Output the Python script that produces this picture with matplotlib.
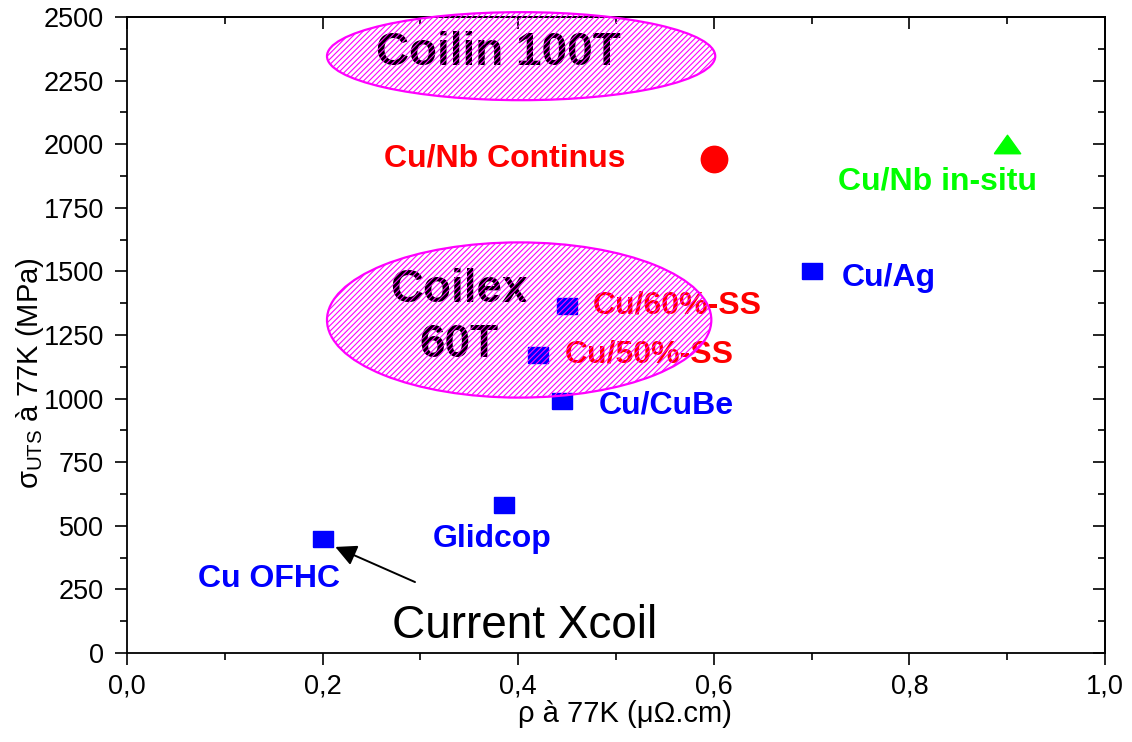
"""Strength vs resistivity at 77K for conductor candidates (Coilin / Coilex)."""

import matplotlib
matplotlib.use("Agg")
import matplotlib.pyplot as plt
from matplotlib.patches import Ellipse
from matplotlib.ticker import FuncFormatter, MultipleLocator

plt.rcParams["font.family"] = ["Liberation Sans", "DejaVu Sans"]
plt.rcParams["mathtext.default"] = "regular"
plt.rcParams["hatch.linewidth"] = 0.8

BLUE = "#0000FF"
RED = "#FF0000"
GREEN = "#00FF00"
MAGENTA = "#FF00FF"

# conductors: resistivity (µOhm.cm) and UTS (MPa) at 77K
blue_names = ["Cu OFHC", "Glidcop", "Cu/CuBe", "Cu/50%-SS", "Cu/60%-SS", "Cu/Ag"]
blue_rho = [0.20, 0.385, 0.445, 0.42, 0.45, 0.70]
blue_uts = [450, 580, 990, 1170, 1365, 1500]

contin_rho = [0.60]
contin_uts = [1940]

insitu_rho = [0.90]
insitu_uts = [2000]

# label anchors (left edge, baseline) and colours
label_text = ["Cu OFHC", "Glidcop", "Cu/CuBe", "Cu/50%-SS", "Cu/60%-SS",
              "Cu/Ag", "Cu/Nb Continus", "Cu/Nb in-situ"]
label_x = [0.073, 0.313, 0.482, 0.448, 0.476, 0.731, 0.263, 0.727]
label_y = [259, 417, 943, 1140, 1333, 1443, 1914, 1820]
label_col = [BLUE, BLUE, BLUE, RED, RED, BLUE, RED, GREEN]

# target zones: centre, width, height
zone_names = ["Coilin 100T", "Coilex 60T"]
zone_cx = [0.403, 0.401]
zone_cy = [2346, 1309]
zone_w = [0.397, 0.393]
zone_h = [346, 610]

rect_marker = [(-1, -0.76), (1, -0.76), (1, 0.76), (-1, 0.76), (-1, -0.76)]
tri_marker = [(-1, -0.7), (1, -0.7), (0, 0.7), (-1, -0.7)]


def _comma(x, _pos):
    return f"{x:.1f}".replace(".", ",")


fig = plt.figure(figsize=(11.32, 7.42), dpi=100)
ax = fig.add_axes([0.1122, 0.1199, 0.8639, 0.8572])

ax.plot(blue_rho, blue_uts, ls="none", marker=rect_marker, ms=15,
        color=BLUE, mec=BLUE, zorder=3)
ax.plot(contin_rho, contin_uts, ls="none", marker="o", ms=19,
        color=RED, mec=RED, zorder=3)
ax.plot(insitu_rho, insitu_uts, ls="none", marker=tri_marker, ms=19,
        color=GREEN, mec=GREEN, zorder=3)

for t, x, y, c in zip(label_text, label_x, label_y, label_col):
    ax.text(x, y, t, color=c, fontsize=23, fontweight="bold",
            ha="left", va="baseline", zorder=3)

# zone captions sit under the hatched ellipses
ax.text(0.380, 2311, "Coilin 100T", fontsize=33, fontweight="bold",
        ha="center", va="baseline", zorder=3)
ax.text(0.339, 1380, "Coilex", fontsize=33, fontweight="bold",
        ha="center", va="baseline", zorder=3)
ax.text(0.339, 1164, "60T", fontsize=33, fontweight="bold",
        ha="center", va="baseline", zorder=3)

for cx, cy, w, h in zip(zone_cx, zone_cy, zone_w, zone_h):
    ax.add_patch(Ellipse((cx, cy), w, h, facecolor="none", edgecolor=MAGENTA,
                         hatch="//////", lw=1.6, zorder=5, clip_on=False))

ax.annotate("", xy=(0.213, 417), xytext=(0.2945, 279),
            arrowprops=dict(arrowstyle="-|>", color="black", lw=1.4,
                            mutation_scale=32, shrinkA=0, shrinkB=0),
            zorder=4)
ax.text(0.271, 59, "Current Xcoil", fontsize=33, ha="left", va="baseline")

ax.set_xlim(0, 1.0)
ax.set_ylim(0, 2500)
ax.xaxis.set_major_locator(MultipleLocator(0.2))
ax.xaxis.set_minor_locator(MultipleLocator(0.1))
ax.xaxis.set_major_formatter(FuncFormatter(_comma))
ax.yaxis.set_major_locator(MultipleLocator(250))
ax.yaxis.set_minor_locator(MultipleLocator(125))
ax.tick_params(which="major", direction="out", length=8.5, width=1.2,
               labelsize=19.5)
ax.tick_params(axis="x", which="major", pad=6)
ax.tick_params(axis="y", which="major", pad=8)
ax.tick_params(which="minor", direction="out", length=5, width=1.2)
for sp in ax.spines.values():
    sp.set_linewidth(1.3)

# inward ticks on the top and right frame
top = ax.secondary_xaxis("top")
top.xaxis.set_major_locator(MultipleLocator(0.2))
top.xaxis.set_minor_locator(MultipleLocator(0.1))
top.tick_params(which="major", direction="in", length=8.5, width=1.2,
                labeltop=False)
top.tick_params(which="minor", direction="in", length=5, width=1.2)
right = ax.secondary_yaxis("right")
right.yaxis.set_major_locator(MultipleLocator(250))
right.yaxis.set_minor_locator(MultipleLocator(125))
right.tick_params(which="major", direction="in", length=8.5, width=1.2,
                  labelright=False)
right.tick_params(which="minor", direction="in", length=5, width=1.2)
top.spines["top"].set_linewidth(1.3)
right.spines["right"].set_linewidth(1.3)

ax.set_xlabel("ρ à 77K (μΩ.cm)", fontsize=21)
ax.set_ylabel(r"σ$_{UTS}$ à 77K (MPa)", fontsize=21)
ax.xaxis.set_label_coords(0.509, -0.074)
ax.yaxis.set_label_coords(-0.083, 0.44)

fig.savefig("out.png", dpi=100)
